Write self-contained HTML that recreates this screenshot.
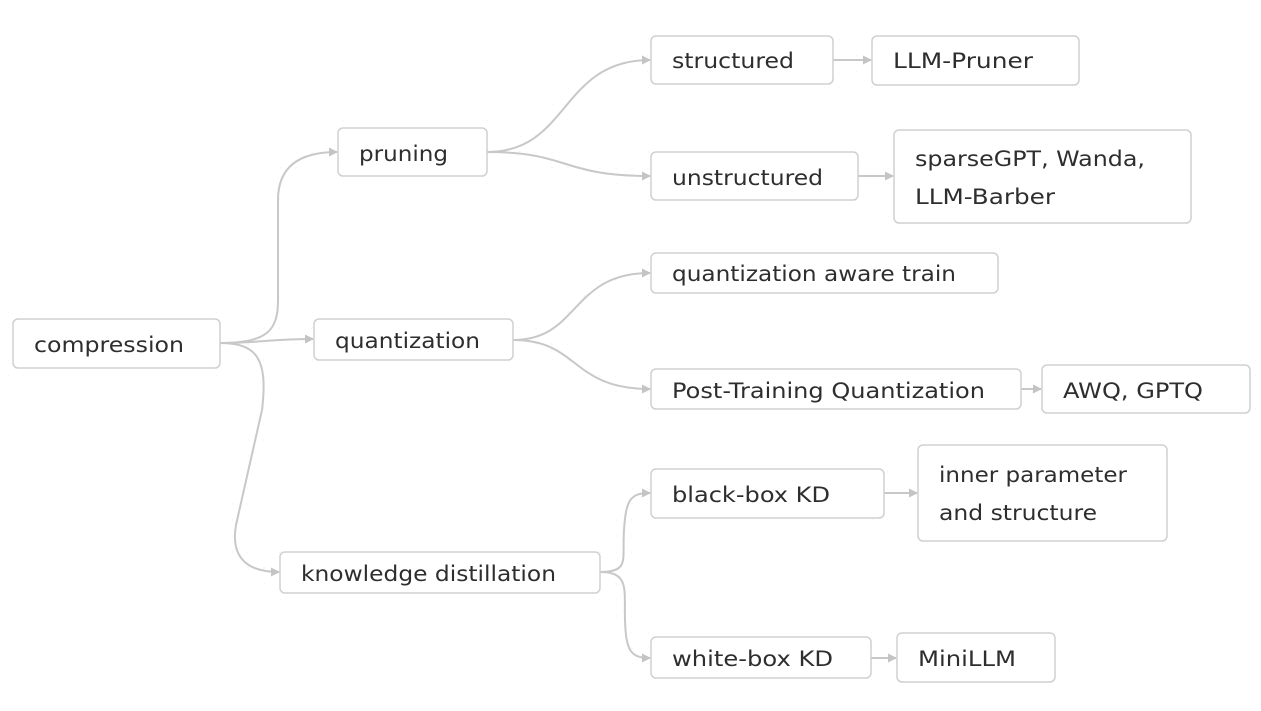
<!DOCTYPE html>
<html><head><meta charset="utf-8"><style>
html,body{margin:0;padding:0;background:#fff;}
body{width:1261px;height:706px;overflow:hidden;
background-image:radial-gradient(circle,#f3f3f3 0.8px,transparent 1.1px);background-size:16px 16px;}
svg text{font-family:"DejaVu Sans","Liberation Sans",sans-serif;font-size:21px;fill:#2e2e2e;}
</style></head><body>
<svg width="1261" height="706" viewBox="0 0 1261 706" xmlns="http://www.w3.org/2000/svg">
<defs><marker id="a" markerWidth="10" markerHeight="10" refX="8" refY="5" orient="auto" markerUnits="userSpaceOnUse"><path d="M0,0.5 L9,5 L0,9.5 z" fill="#c4c4c4"/></marker></defs>
<g fill="none" stroke="#c8c8c8" stroke-width="2" marker-end="url(#a)">
<path d="M220,343 C268,343 278,330 278,300 L278,200 C278,166 300,152 337,152"/>
<path d="M220,343 C260,343 270,339 313,339"/>
<path d="M220,343 C258,343 268,360 262,410 L236,525 C230,560 250,572 279,572"/>
<path d="M487,152 C570,152 560,60 650,60"/>
<path d="M487,152 C570,152 560,176 650,176"/>
<path d="M513,340 C580,340 570,273 650,273"/>
<path d="M513,340 C580,340 570,389 650,389"/>
<path d="M600,572 C630,572 622,560 624,530 C626,500 630,493 650,493"/>
<path d="M600,572 C630,572 624,590 625,620 C626,650 630,658 650,658"/>
<path d="M833,60 L871,60"/>
<path d="M858,176 L893,176"/>
<path d="M1021,389 L1041,389"/>
<path d="M884,493 L917,493"/>
<path d="M871,658 L896,658"/>
</g>
<g fill="#fff" stroke="#d0d0d0" stroke-width="1.5">
<rect x="13" y="319" width="207" height="49" rx="5"/>
<rect x="338" y="128" width="149" height="48" rx="5"/>
<rect x="314" y="319" width="199" height="41" rx="5"/>
<rect x="280" y="552" width="320" height="41" rx="5"/>
<rect x="651" y="36" width="182" height="48" rx="5"/>
<rect x="872" y="36" width="207" height="49" rx="5"/>
<rect x="651" y="152" width="207" height="48" rx="5"/>
<rect x="894" y="130" width="297" height="93" rx="5"/>
<rect x="651" y="253" width="347" height="40" rx="5"/>
<rect x="651" y="369" width="370" height="40" rx="5"/>
<rect x="1042" y="365" width="208" height="48" rx="5"/>
<rect x="651" y="469" width="233" height="49" rx="5"/>
<rect x="918" y="445" width="249" height="96" rx="5"/>
<rect x="651" y="637" width="220" height="41" rx="5"/>
<rect x="897" y="633" width="158" height="49" rx="5"/>
</g>
<g>
<text x="34" y="352" textLength="150" lengthAdjust="spacingAndGlyphs">compression</text>
<text x="359" y="161" textLength="89" lengthAdjust="spacingAndGlyphs">pruning</text>
<text x="335" y="348" textLength="145" lengthAdjust="spacingAndGlyphs">quantization</text>
<text x="301" y="581" textLength="255" lengthAdjust="spacingAndGlyphs">knowledge distillation</text>
<text x="672" y="68" textLength="122" lengthAdjust="spacingAndGlyphs">structured</text>
<text x="893" y="68" textLength="140" lengthAdjust="spacingAndGlyphs">LLM-Pruner</text>
<text x="672" y="185" textLength="151" lengthAdjust="spacingAndGlyphs">unstructured</text>
<text x="915" y="166" textLength="230" lengthAdjust="spacingAndGlyphs">sparseGPT, Wanda,</text>
<text x="915" y="204" textLength="140" lengthAdjust="spacingAndGlyphs">LLM-Barber</text>
<text x="672" y="281" textLength="284" lengthAdjust="spacingAndGlyphs">quantization aware train</text>
<text x="672" y="398" textLength="313" lengthAdjust="spacingAndGlyphs">Post-Training Quantization</text>
<text x="1063" y="398" textLength="140" lengthAdjust="spacingAndGlyphs">AWQ, GPTQ</text>
<text x="672" y="502" textLength="158" lengthAdjust="spacingAndGlyphs">black-box KD</text>
<text x="939" y="482" textLength="188" lengthAdjust="spacingAndGlyphs">inner parameter</text>
<text x="939" y="520" textLength="158" lengthAdjust="spacingAndGlyphs">and structure</text>
<text x="672" y="666" textLength="161" lengthAdjust="spacingAndGlyphs">white-box KD</text>
<text x="918" y="666" textLength="98" lengthAdjust="spacingAndGlyphs">MiniLLM</text>
</g>
</svg>
</body></html>
